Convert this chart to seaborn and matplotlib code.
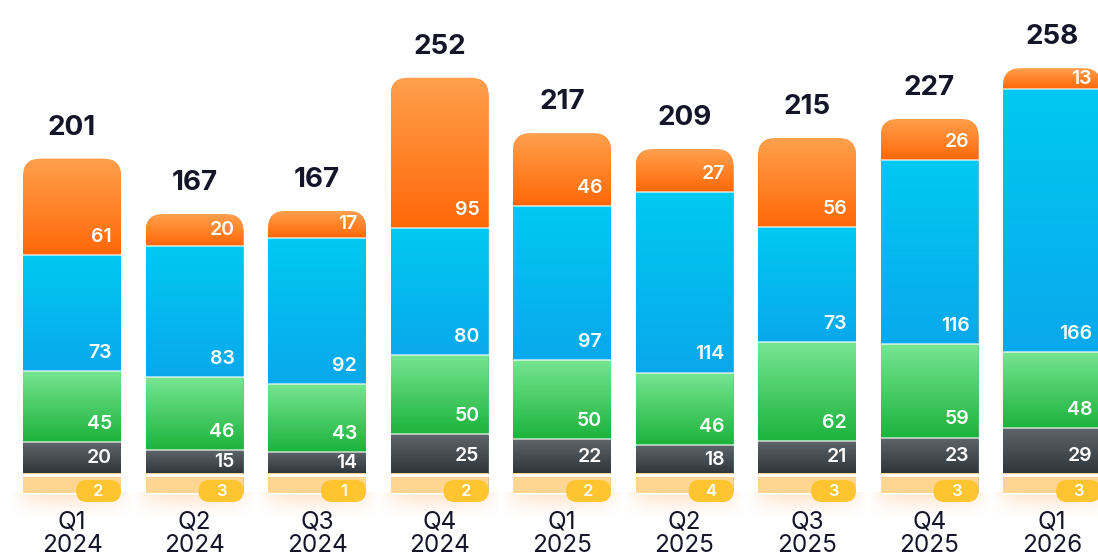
import numpy as np
import pandas as pd
import matplotlib
matplotlib.use("Agg")
import matplotlib.pyplot as plt
import seaborn as sns
from matplotlib.patches import FancyBboxPatch
from matplotlib.colors import LinearSegmentedColormap

# ---------------- data ----------------
quarters = ["Q1", "Q2", "Q3", "Q4", "Q1", "Q2", "Q3", "Q4", "Q1"]
years = ["2024", "2024", "2024", "2024", "2025", "2025", "2025", "2025", "2026"]
totals = [201, 167, 167, 252, 217, 209, 215, 227, 258]
other = [2, 3, 1, 2, 2, 4, 3, 3, 3]
gray = [20, 15, 14, 25, 22, 18, 21, 23, 29]
green = [45, 46, 43, 50, 50, 46, 62, 59, 48]
blue = [73, 83, 92, 80, 97, 114, 73, 116, 166]
orange = [61, 20, 17, 95, 46, 27, 56, 26, 13]

# ---------------- style ----------------
BASE = 12.0            # display height of the small bottom segment
PX_PER_UNIT = 1.585
PX_PER_CAT = 122.5
W, H = 1098, 557
BOTTOM_PX = 493

grad_colors = {
    "gray": ("#5e666c", "#2d343a"),
    "green": ("#78e593", "#1cb33b"),
    "blue": ("#00c9f1", "#0aa8ec"),
    "orange": ("#ffa04d", "#ff6808"),
}
yellow_cols = ("#ffd690", "#ffd595")
pill_color = "#ffc531"
text_dark = "#15152a"

sns.set_theme(style="white")
plt.rcParams["font.family"] = ["Inter", "DejaVu Sans"]

labels = [f"{q}\n{y}" for q, y in zip(quarters, years)]
n = len(labels)

layers = [("gray", gray), ("green", green), ("blue", blue), ("orange", orange)]
bottoms = {}
tops = {}
run = np.full(n, BASE)
for name, vals in layers:
    bottoms[name] = run.copy()
    run = run + np.array(vals, float)
    tops[name] = run.copy()

fig = plt.figure(figsize=(W / 100, H / 100), dpi=100)
fig.patch.set_facecolor("white")
ax = fig.add_axes([0, 0, 1, 1])

xmin = -72 / PX_PER_CAT
xmax = xmin + W / PX_PER_CAT
ymin = -(H - BOTTOM_PX) / PX_PER_UNIT
ymax = BOTTOM_PX / PX_PER_UNIT

# seaborn stacked bars: draw cumulative tops from tallest to base
draw_order = [("orange", tops["orange"]), ("blue", tops["blue"]),
              ("green", tops["green"]), ("gray", tops["gray"]),
              ("other", np.full(n, BASE))]
containers = {}
for name, vals in draw_order:
    df = pd.DataFrame({"q": labels, "v": vals})
    col = grad_colors[name][1] if name in grad_colors else yellow_cols[0]
    before = len(ax.containers)
    sns.barplot(data=df, x="q", y="v", order=labels, color=col, width=0.8,
                saturation=1, ax=ax, zorder=2, errorbar=None)
    containers[name] = ax.containers[before]

ax.set_xlim(xmin, xmax)
ax.set_ylim(ymin, ymax)

asp = PX_PER_CAT / PX_PER_UNIT
r_px = 18
r_x = r_px / PX_PER_CAT

grad = np.linspace(0, 1, 256).reshape(-1, 1)

for i in range(n):
    p = containers["orange"][i]
    x0 = p.get_x()
    bw = p.get_width()
    x1 = x0 + bw
    top = tops["orange"][i]
    clip = FancyBboxPatch((x0, -30), bw, top + 30,
                          boxstyle=f"round,pad=0,rounding_size={r_x}",
                          mutation_aspect=asp, transform=ax.transData,
                          fc="none", ec="none")
    for name in ["orange", "blue", "green", "gray", "other"]:
        containers[name][i].set_clip_path(clip)

    # soft glow below bar
    gh = 16
    glow = np.zeros((64, 64, 4))
    yy = np.linspace(0, 1, 64).reshape(-1, 1)
    xx = np.linspace(-1, 1, 64).reshape(1, -1)
    alpha = (1 - yy) ** 1.3 * np.clip(1 - np.abs(xx) ** 3, 0, 1) * 0.6
    glow[..., 0] = 1.0
    glow[..., 1] = 0.82
    glow[..., 2] = 0.64
    glow[..., 3] = alpha
    ax.imshow(glow, extent=[x0 - 0.1, x1 + 0.1, -gh, 0], aspect="auto",
              interpolation="bicubic", zorder=1)

    # gradients on segments
    for name, _ in layers:
        cmap = LinearSegmentedColormap.from_list(name, grad_colors[name])
        im = ax.imshow(grad, cmap=cmap, extent=[x0, x1, bottoms[name][i], tops[name][i]],
                       aspect="auto", interpolation="bicubic", zorder=2.5)
        im.set_clip_path(clip)
    cmap_y = LinearSegmentedColormap.from_list("y", yellow_cols)
    im = ax.imshow(grad, cmap=cmap_y, extent=[x0, x1, 0, BASE],
                   aspect="auto", interpolation="bicubic", zorder=2.5)
    im.set_clip_path(clip)

    # separators
    ax.hlines(BASE - 0.6, x0, x1, color="white", lw=2.0, zorder=3)
    for name in ["green", "blue", "orange"]:
        ax.hlines(bottoms[name][i], x0, x1, color="white", lw=1.1, alpha=0.75, zorder=3)

    # segment labels
    for name, vals in layers:
        b = bottoms[name][i]
        h = tops[name][i] - b
        yv = b + min(11.4, h / 2)
        ax.text(x1 - 9 / PX_PER_CAT, yv, str(vals[i]), ha="right", va="center",
                color="white", fontsize=14, fontweight="semibold", zorder=5)

    # pill for the small segment
    pw = 45 / PX_PER_CAT
    ph = 22 / PX_PER_UNIT
    pc = (BOTTOM_PX - 491) / PX_PER_UNIT
    pill = FancyBboxPatch((x1 - pw, pc - ph / 2), pw, ph,
                          boxstyle=f"round,pad=0,rounding_size={ph / 2 / asp}",
                          mutation_aspect=asp, fc=pill_color, ec="none", zorder=4)
    ax.add_patch(pill)
    ax.text(x1 - pw / 2, pc, str(other[i]), ha="center", va="center",
            color="white", fontsize=12, fontweight="semibold", zorder=5)

    # total on top
    ax.text(x0 + bw / 2, top + 31 / PX_PER_UNIT, str(totals[i]), ha="center",
            va="center", fontsize=20, fontweight="bold", color=text_dark, zorder=5)

    # category labels
    cx = x0 + bw / 2
    ax.text(cx, -(522 - BOTTOM_PX) / PX_PER_UNIT, quarters[i], ha="center", va="center",
            fontsize=17.5, color=text_dark, zorder=5)
    ax.text(cx, -(546 - BOTTOM_PX) / PX_PER_UNIT, years[i], ha="center", va="center",
            fontsize=17.5, color=text_dark, zorder=5)

ax.set_xlim(xmin, xmax)
ax.set_ylim(ymin, ymax)
ax.set_axis_off()

fig.savefig("out.png", dpi=100, facecolor="white")
